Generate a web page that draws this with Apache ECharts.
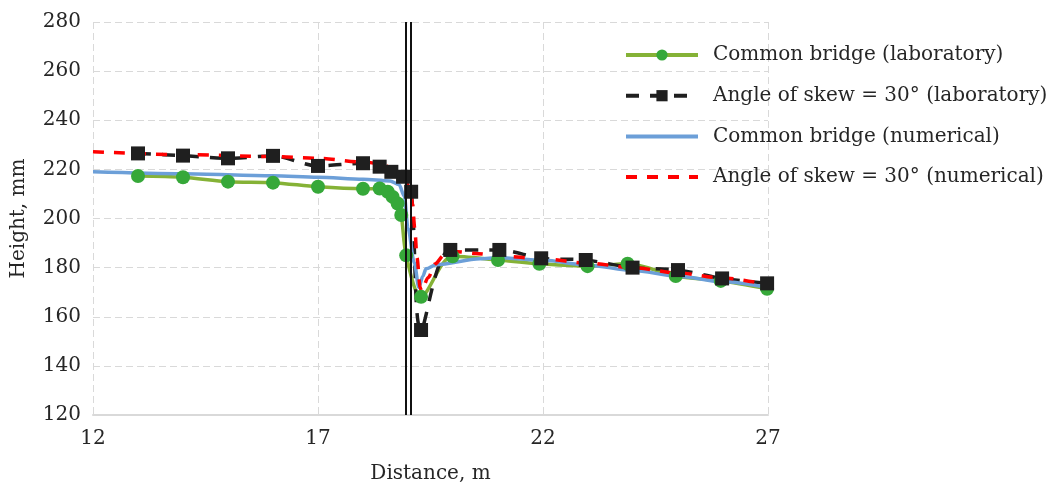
<!DOCTYPE html>
<html><head><meta charset="utf-8">
<script src="https://cdn.jsdelivr.net/npm/echarts@6/dist/echarts.min.js"></script>
<style>html,body{margin:0;padding:0;background:#fff}#c{width:1051px;height:486px}</style>
</head><body><div id="c"></div>
<script>
// Common bridge (laboratory) [distance m, height mm]
const commonLab = [[13,217.3],[14,216.8],[15,215.0],[16,214.6],[17,212.9],[18,212.1],[18.37,212.2],[18.55,210.9],[18.66,208.8],[18.77,206.1],[18.85,201.4],[18.96,185.0],[19.29,168.1],[19.99,184.6],[21,183.1],[21.92,181.6],[22.99,180.6],[23.88,181.6],[24.95,176.6],[25.95,174.6],[26.98,171.4]];
// Angle of skew = 30° (laboratory)
const skewLab = [[13,226.5],[14,225.6],[15,224.5],[16,225.5],[17,221.4],[18,222.5],[18.37,221.1],[18.63,219.0],[18.89,217.0],[19.07,210.9],[19.29,154.6],[19.94,187.2],[21.03,187.2],[21.96,183.8],[22.95,183.1],[23.99,180.0],[25.0,179.0],[25.98,175.6],[26.98,173.6]];
// Common bridge (numerical)
const commonNum = [[12,219.0],[14,218.2],[16,217.4],[17,216.8],[18,216.0],[18.6,215.3],[18.8,213.8],[18.92,209.0],[19.0,196.0],[19.14,182.0],[19.24,172.0],[19.33,176.5],[19.4,179.5],[19.63,181.2],[20.6,183.6],[21,184.0],[22,183.0],[23,181.0],[24,178.8],[25,176.5],[26,174.2],[27,171.8]];
// Angle of skew = 30° (numerical)
const skewNum = [[12,227.2],[14,226.0],[16,225.2],[17,224.5],[18,223.0],[18.4,222.3],[18.7,220.0],[18.9,217.0],[19.05,212.0],[19.1,206.0],[19.15,196.0],[19.2,184.0],[19.27,172.0],[19.3,170.5],[19.45,176.0],[19.6,181.5],[19.8,185.0],[20.1,186.5],[20.5,185.8],[21,184.8],[22,183.6],[23,181.8],[24,180.0],[25,177.8],[26,175.8],[27,173.0]];
// bridge pier positions (vertical double line)
const pierLines = [18.95, 19.05];
const seriesNames = ['Common bridge (laboratory)','Angle of skew = 30° (laboratory)','Common bridge (numerical)','Angle of skew = 30° (numerical)'];
const xTicks = {min:12, max:27, interval:5};
const yTicks = {min:120, max:280, interval:20};

const FONT = 'DejaVu Serif';
const TXT = '#262626';
const FS = 20;
const hidden = {color:'rgba(0,0,0,0)',borderWidth:0};
const chart = echarts.init(document.getElementById('c'), null, {renderer:'canvas'});
chart.setOption({
  animation:false,
  backgroundColor:'#fff',
  textStyle:{fontFamily:FONT},
  grid:{left:93,right:283,top:22,bottom:71,containLabel:false,outerBoundsMode:'none'},
  legend:{
    orient:'vertical', left:619, top:40, itemWidth:72, itemHeight:14, itemGap:20.7,
    textStyle:{fontFamily:FONT,fontSize:FS,color:TXT,padding:[0,0,0,10]},
    data:[
      {name:seriesNames[0],lineStyle:{width:4}},
      {name:seriesNames[1],lineStyle:{width:4}},
      {name:seriesNames[2],itemStyle:hidden,lineStyle:{width:4}},
      {name:seriesNames[3],itemStyle:hidden,lineStyle:{width:4}}
    ]
  },
  xAxis:{type:'value',min:xTicks.min,max:xTicks.max,interval:xTicks.interval,
    name:'Distance, m',nameLocation:'middle',nameGap:49,
    nameTextStyle:{fontFamily:FONT,fontSize:FS,color:TXT},
    axisLine:{show:true,lineStyle:{color:'#d9d9d9',width:2}},
    axisTick:{show:false},
    axisLabel:{fontFamily:FONT,fontSize:FS,color:TXT,margin:14},
    splitLine:{show:true,lineStyle:{color:'#d9d9d9',type:[7,4],width:1}}},
  yAxis:{type:'value',min:yTicks.min,max:yTicks.max,interval:yTicks.interval,
    name:'Height, mm',nameLocation:'middle',nameGap:64,
    nameTextStyle:{fontFamily:FONT,fontSize:FS,color:TXT},
    axisLine:{show:false},axisTick:{show:false},
    axisLabel:{fontFamily:FONT,fontSize:FS,color:TXT,margin:12},
    splitLine:{show:true,lineStyle:{color:'#d9d9d9',type:[7,4],width:1}}},
  series:[
    {name:seriesNames[0],type:'line',data:commonLab,smooth:0.3,
     symbol:'circle',symbolSize:14,
     lineStyle:{color:'#85b236',width:3.5},itemStyle:{color:'#36a839'}},
    {name:seriesNames[1],type:'line',data:skewLab,smooth:0.3,
     symbol:'rect',symbolSize:14,
     lineStyle:{color:'#1f1f1f',width:3.5,type:[13,11]},itemStyle:{color:'#1f1f1f'}},
    {name:seriesNames[2],type:'line',data:commonNum,smooth:0.3,smoothMonotone:'x',
     symbol:'none',lineStyle:{color:'#6c9fd8',width:3.5},itemStyle:{color:'#6c9fd8'}},
    {name:seriesNames[3],type:'line',data:skewNum,smooth:0.3,smoothMonotone:'x',
     symbol:'none',lineStyle:{color:'#ff0000',width:3.5,type:[11,10]},itemStyle:{color:'#ff0000'},
     markLine:{silent:true,symbol:['none','none'],label:{show:false},
       lineStyle:{color:'#111',width:2,type:'solid'},
       data:pierLines.map(v=>({xAxis:v}))}}
  ]
});
</script></body></html>
